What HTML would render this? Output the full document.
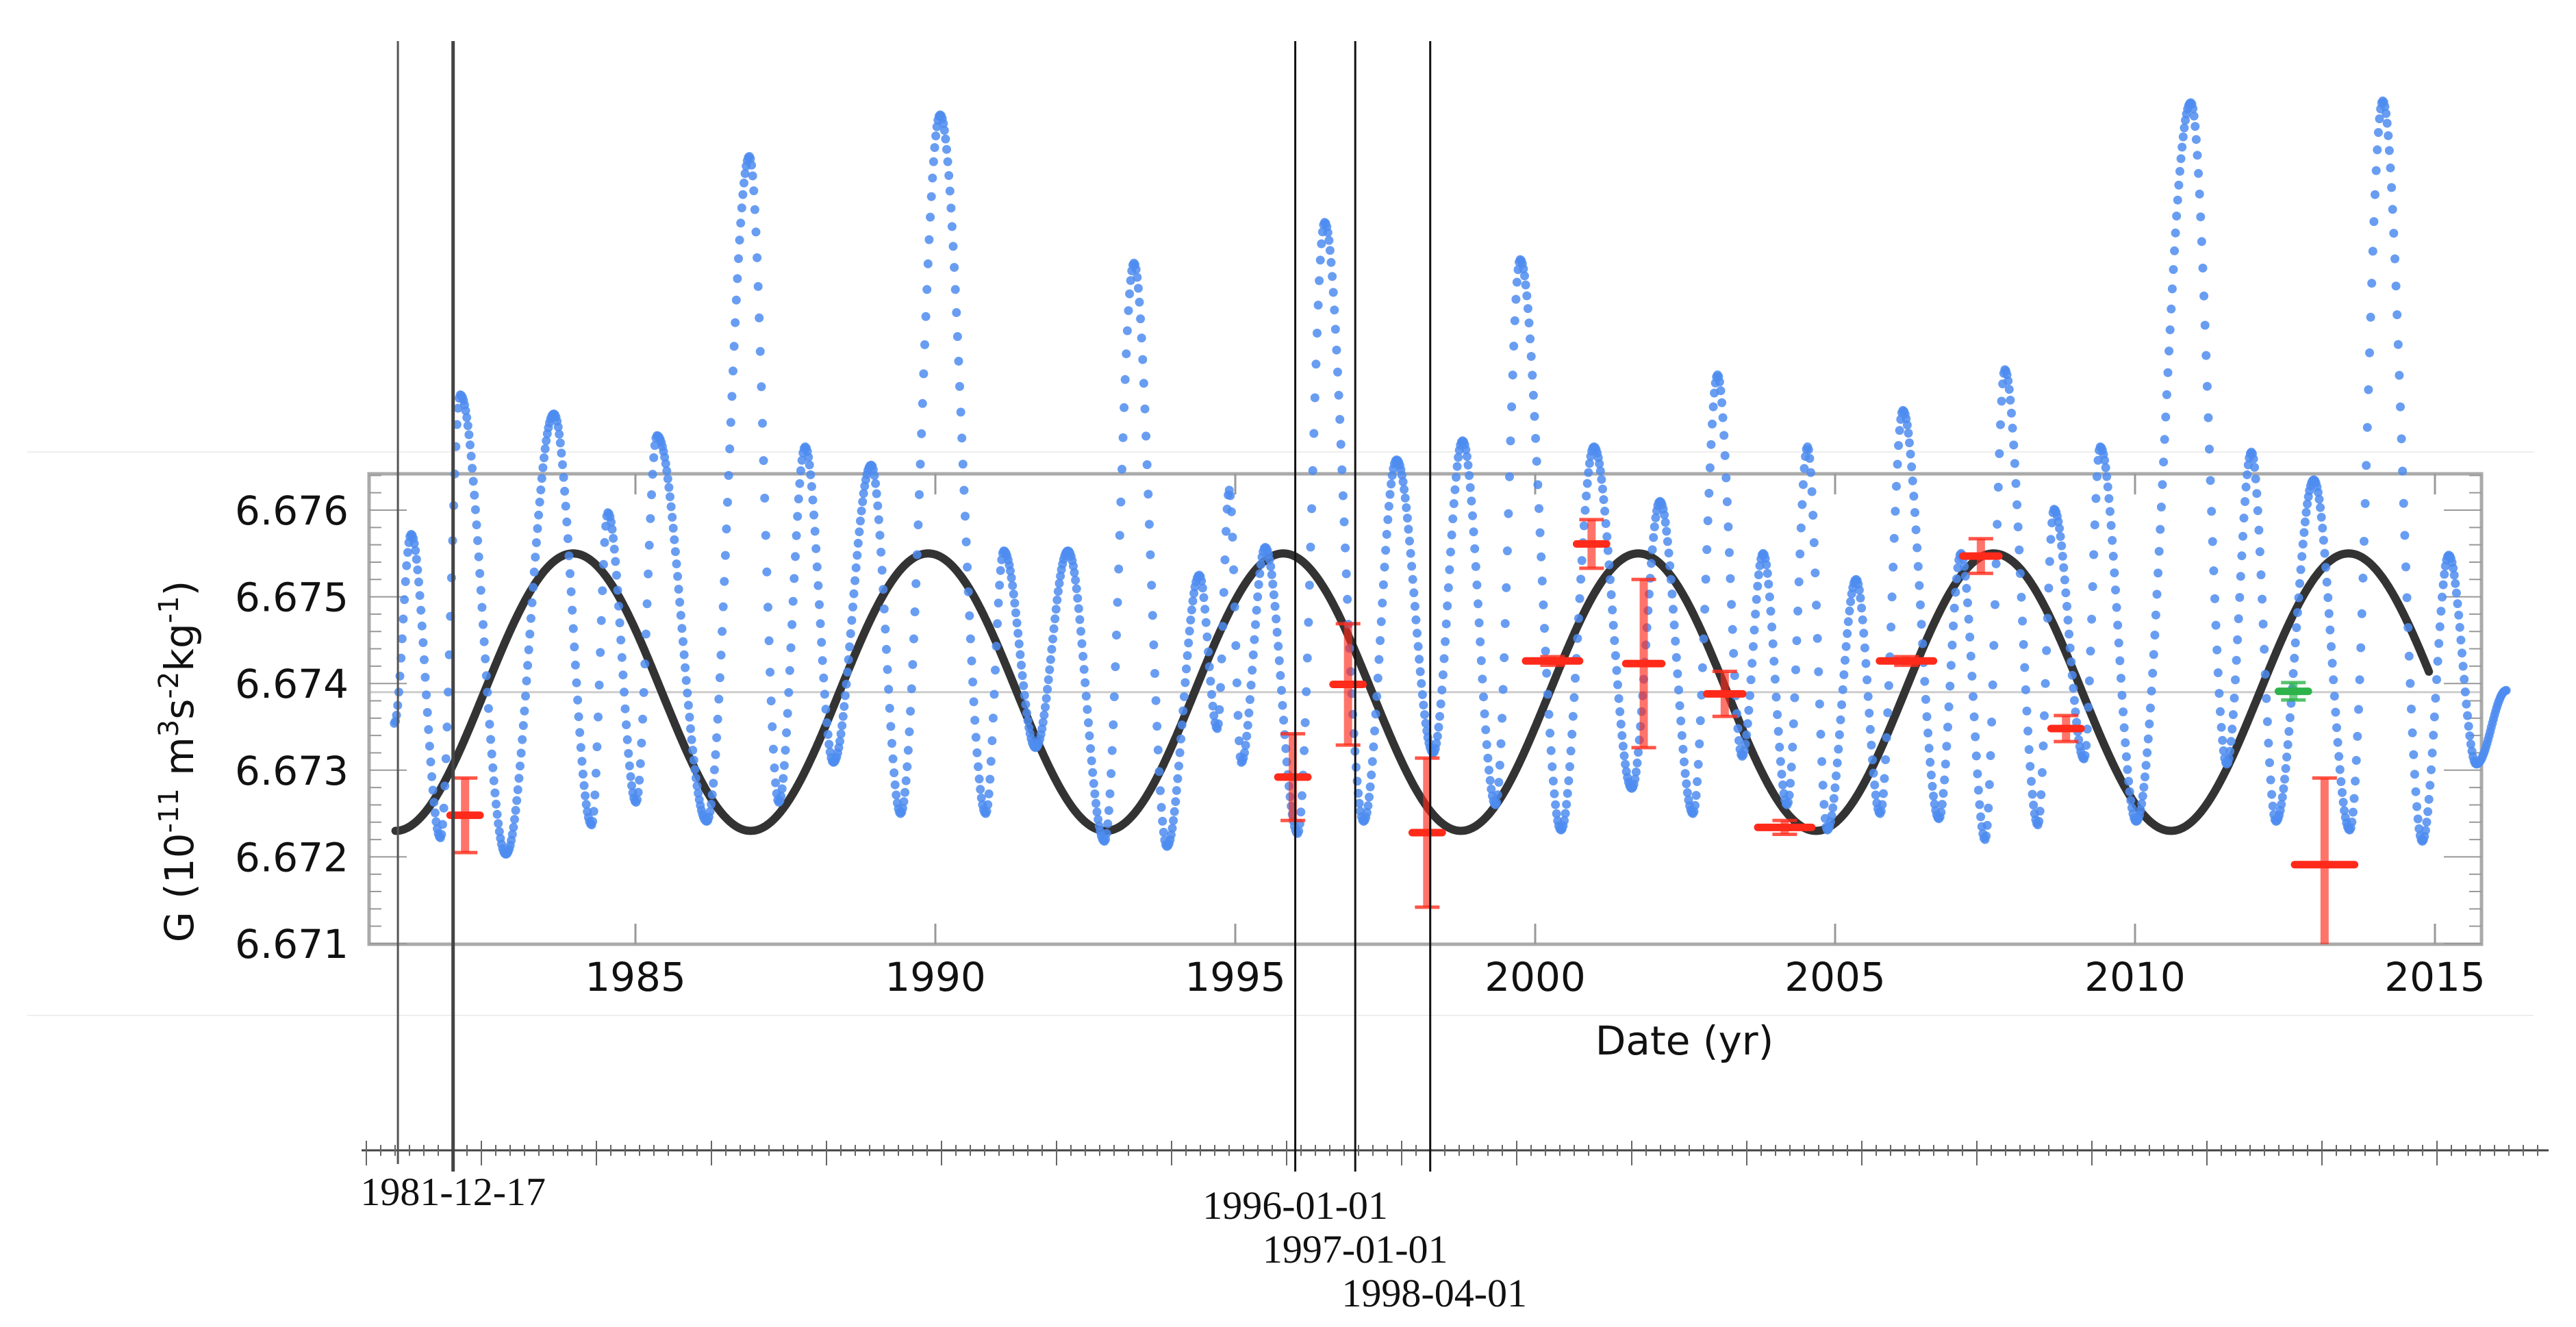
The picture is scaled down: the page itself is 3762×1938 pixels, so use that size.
<!DOCTYPE html>
<html><head><meta charset="utf-8"><style>
html,body{margin:0;padding:0;background:#fff;}
svg{display:block;}
.lab{font-family:"DejaVu Sans","Liberation Sans",sans-serif;font-size:58px;fill:#111;}
.dl{font-family:"Liberation Serif","DejaVu Serif",serif;font-size:58px;fill:#111;}
</style></head><body>
<svg id="chart" width="3762" height="1938" viewBox="0 0 3762 1938" xmlns="http://www.w3.org/2000/svg">
<g id="bg">
<line x1="40" y1="660" x2="3700" y2="660" stroke="#eee" stroke-width="2"/>
<line x1="40" y1="1483" x2="3700" y2="1483" stroke="#eee" stroke-width="2"/>
</g>
<g id="frame"></g>
<g id="curve"></g>
<g id="blue"></g>
<g id="red"></g>
<g id="overlay"></g>
<text class="lab" x="2460" y="1540" text-anchor="middle">Date (yr)</text>
<text class="lab" transform="translate(282,1112) rotate(-90)" text-anchor="middle">G (10<tspan dy="-22" font-size="40">-11</tspan><tspan dy="22"> m</tspan><tspan dy="-22" font-size="40">3</tspan><tspan dy="22">s</tspan><tspan dy="-22" font-size="40">-2</tspan><tspan dy="22">kg</tspan><tspan dy="-22" font-size="40">-1</tspan><tspan dy="22">)</tspan></text>
</svg>
<script>
const yTicks = [6.671, 6.672, 6.673, 6.674, 6.675, 6.676];
const xTicks = [1985, 1990, 1995, 2000, 2005, 2010, 2015];
const blueYears = [1980.98,1981.26,1981.75,1982.08,1982.84,1983.64,1984.27,1984.54,1985.01,1985.36,1986.19,1986.90,1987.39,1987.83,1988.30,1988.93,1989.42,1990.08,1990.84,1991.14,1991.67,1992.21,1992.82,1993.31,1993.86,1994.40,1994.70,1994.90,1995.10,1995.50,1996.04,1996.49,1997.14,1997.69,1998.30,1998.79,1999.34,1999.75,2000.43,2000.98,2001.61,2002.08,2002.63,2003.04,2003.45,2003.80,2004.20,2004.54,2004.87,2005.35,2005.75,2006.13,2006.73,2007.10,2007.50,2007.83,2008.38,2008.65,2009.15,2009.42,2010.02,2010.93,2011.53,2011.94,2012.35,2012.98,2013.58,2014.13,2014.79,2015.23,2015.69,2016.19];
const blueValues = [6.67354,6.67572,6.67222,6.67733,6.67203,6.67711,6.67237,6.67597,6.67263,6.67686,6.67241,6.68008,6.67263,6.67673,6.67309,6.67652,6.67250,6.68056,6.67250,6.67553,6.67326,6.67553,6.67218,6.67885,6.67212,6.67525,6.67348,6.67623,6.67309,6.67557,6.67227,6.67932,6.67241,6.67658,6.67320,6.67680,6.67260,6.67889,6.67231,6.67673,6.67279,6.67610,6.67250,6.67756,6.67316,6.67550,6.67260,6.67673,6.67231,6.67520,6.67250,6.67715,6.67244,6.67550,6.67220,6.67762,6.67237,6.67601,6.67313,6.67673,6.67241,6.68070,6.67307,6.67667,6.67241,6.67635,6.67231,6.68072,6.67218,6.67548,6.67307,6.67392];
const fitMean = [6.6739];
const fitAmp = [0.0016];
const fitPeriod = [5.92];
const fitRange = [1981.0, 2014.9];
const redYears = [1982.16,1995.96,1996.88,1998.2,2000.29,2000.94,2001.81,2003.16,2004.16,2006.19,2007.43,2008.85,2013.16];
const redValues = [6.67248,6.67292,6.67399,6.67228,6.67426,6.67561,6.67423,6.67388,6.67234,6.67426,6.67547,6.67348,6.67191];
const redErrs = [0.00043,0.0005,0.0007,0.00086,0.00005,0.00028,0.00097,0.00026,0.00008,0.00005,0.0002,0.00015,0.001];
const redXErrs = [0.25,0.25,0.25,0.25,0.45,0.25,0.3,0.3,0.45,0.45,0.3,0.25,0.5];
const greenYears = [2012.64];
const greenValues = [6.67391];
const greenErrs = [0.0001];
const markerDates = ["1981-12-17","1996-01-01","1997-01-01","1998-04-01"];
const markerYears = [1981.96,1996.0,1997.0,1998.25];
const extraLineYears = [1981.04];

const NS="http://www.w3.org/2000/svg";
const X0=539, X1=3624, YT=692, YB=1379;
function xs(t){return 1804+(t-1995)*87.6;}
function ys(v){return 745+(6.676-v)*126600;}
function mk(tag,attrs,parent){const e=document.createElementNS(NS,tag);for(const k in attrs)e.setAttribute(k,attrs[k]);parent.appendChild(e);return e;}

const fr=document.getElementById('frame');
let e=mk('line',{x1:X0,y1:ys(6.6739),x2:X1,y2:ys(6.6739),stroke:'#ccc','stroke-width':3},fr);


e=mk('rect',{x:X0,y:YT,width:X1-X0,height:YB-YT,fill:'none',stroke:'#aaa','stroke-width':5},fr);


for(let v=6.671;v<=6.67642;v+=0.0002){
  const y=ys(v);const maj=Math.abs(v*1000-Math.round(v*1000))<0.01;
  mk('line',{x1:X0,y1:y,x2:X0+(maj?55:18),y2:y,stroke:'#999','stroke-width':2},fr);
  mk('line',{x1:X1,y1:y,x2:X1-(maj?55:18),y2:y,stroke:'#999','stroke-width':2},fr);
}
yTicks.forEach(v=>{
  const t=mk('text',{x:509,y:ys(v)+21,'text-anchor':'end',class:'lab'},fr);
  t.textContent=v.toFixed(3);
  
  
});
xTicks.forEach(yr=>{
  const x=xs(yr);
  mk('line',{x1:x,y1:YB,x2:x,y2:YB-30,stroke:'#999','stroke-width':3},fr);
  mk('line',{x1:x,y1:YT,x2:x,y2:YT+30,stroke:'#999','stroke-width':3},fr);
  const t=mk('text',{x:x,y:1447,'text-anchor':'middle',class:'lab'},fr);
  t.textContent=yr;
  
  
});

const cg=document.getElementById('curve');
let d='';
for(let t=fitRange[0];t<=fitRange[1]+1e-9;t+=0.02){
  const v=fitMean[0]-fitAmp[0]*Math.cos(2*Math.PI*(t-fitRange[0])/fitPeriod[0]);
  d+=(d?'L':'M')+xs(t).toFixed(1)+' '+ys(v).toFixed(1);
}
e=mk('path',{d:d,fill:'none',stroke:'#333','stroke-width':12,'stroke-linecap':'round'},cg);



const bg=document.getElementById('blue');
for(let i=0;i<blueYears.length-1;i++){
  const t0=blueYears[i],t1=blueYears[i+1],v0=blueValues[i],v1=blueValues[i+1];
  const n=Math.max(6,Math.round((t1-t0)*55));
  for(let k=(i===0?0:1);k<=n;k++){
    const f=(1-Math.cos(Math.PI*k/n))/2;
    const c=mk('circle',{cx:xs(t0+(t1-t0)*k/n).toFixed(1),cy:ys(v0+(v1-v0)*f).toFixed(1),r:6.5,fill:'#4d8cf0','fill-opacity':0.85},bg);
    
    
  }
}

const rg=document.getElementById('red');
function errbar(t,v,err,xe,col,name){
  const g=mk('g',{},rg);
  
  
  const x=xs(t),y=ys(v),y0=Math.min(YB,ys(v-err)),y1=ys(v+err);
  mk('line',{x1:x,y1:y0,x2:x,y2:y1,stroke:col,'stroke-width':12,'stroke-opacity':0.65},g);
  mk('line',{x1:x-18,y1:y1,x2:x+18,y2:y1,stroke:col,'stroke-width':5,'stroke-opacity':0.8},g);
  if(y0<YB)mk('line',{x1:x-18,y1:y0,x2:x+18,y2:y0,stroke:col,'stroke-width':5,'stroke-opacity':0.8},g);
  const hw=xe*87.6;
  mk('line',{x1:x-hw,y1:y,x2:x+hw,y2:y,stroke:col,'stroke-width':11,'stroke-linecap':'round'},g);
}
redYears.forEach((t,i)=>errbar(t,redValues[i],redErrs[i],redXErrs[i],'#ff2a1a','red-measurement'));
greenYears.forEach((t,i)=>errbar(t,greenValues[i],greenErrs[i],0.25,'#2db34a','green-measurement'));

const og=document.getElementById('overlay');
e=mk('line',{x1:528,y1:1680,x2:3722,y2:1680,stroke:'#444','stroke-width':3},og);


for(let x=535,i=0;x<3722;x+=21,i++){
  const maj=i%8===0;
  mk('line',{x1:x,y1:1680-(maj?14:8),x2:x,y2:1680+(maj?22:8),stroke:'#666','stroke-width':2},og);
}
extraLineYears.forEach(t=>{
  const l=mk('line',{x1:xs(t),y1:60,x2:xs(t),y2:1700,stroke:'#555','stroke-width':3},og);
  
  
});
markerYears.forEach((t,i)=>{
  const x=xs(t);
  const l=mk('line',{x1:x,y1:60,x2:x,y2:1711,stroke:i===0?'#444':'#111','stroke-width':i===0?5:3},og);
  
  
});
const lblY=[1760,1780,1844,1908];
markerDates.forEach((s,i)=>{
  const tx=mk('text',{x:xs(markerYears[i])+(i===3?6:0),y:lblY[i],'text-anchor':'middle',class:'dl'},og);
  tx.textContent=s;
  
  
});
</script>
</body></html>
